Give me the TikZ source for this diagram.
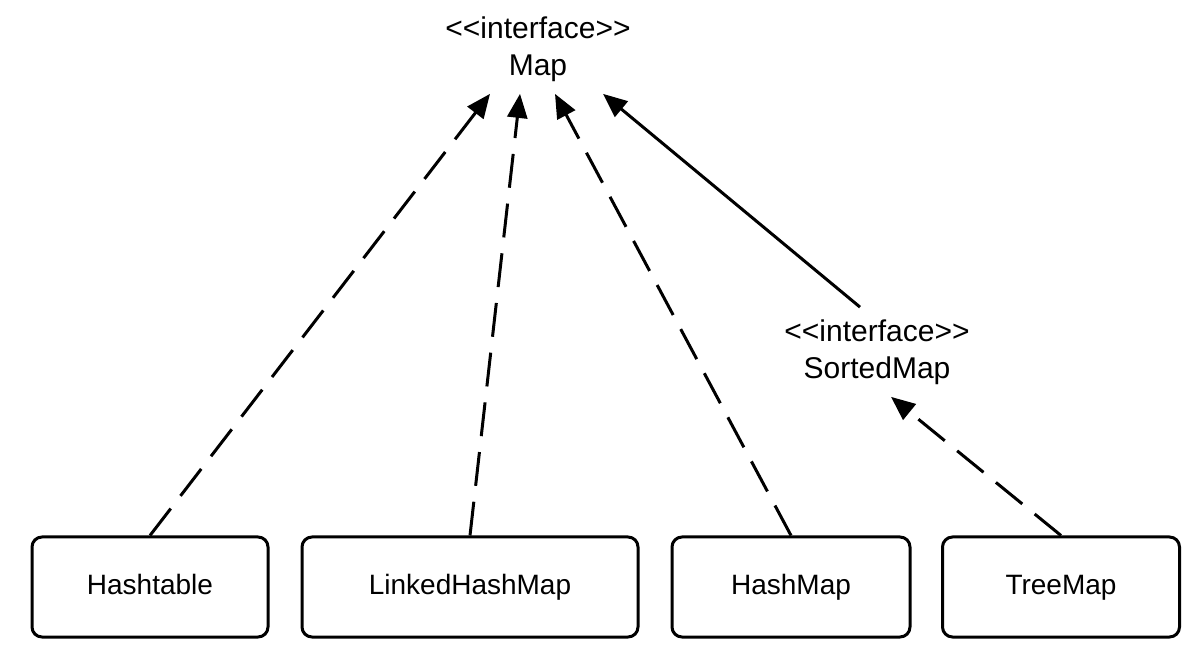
\documentclass[tikz,border=0pt]{standalone}
\usepackage{fontspec}
\setmainfont{Liberation Sans}
\usetikzlibrary{arrows.meta}

\begin{document}
\begin{tikzpicture}[x=0.5pt, y=-0.5pt,
  iface/.style={align=center, inner sep=6pt, font=\fontsize{15}{18.5}\selectfont},
  cls/.style={draw, line width=1.5pt, rounded corners=5pt, minimum height=50pt, text height=10.5pt, text depth=3pt, font=\fontsize{14}{17}\selectfont},
  impl/.style={line width=1.5pt, dash pattern=on 17pt off 8pt, -{Triangle[length=12pt,width=10pt]}},
  ext/.style={line width=1.5pt, -{Triangle[length=12pt,width=10pt]}}]
\useasboundingbox (0,0) rectangle (1203,656);

\node[iface] (map) at (538,49) {<\kern0pt<interface>\kern0pt>\\Map};
\node[iface] (sortedmap) at (877,352) {<\kern0pt<interface>\kern0pt>\\SortedMap};

\node[cls, minimum width=118pt] (hashtable) at (150,587) {Hashtable};
\node[cls, minimum width=168pt] (linkedhashmap) at (470,587) {LinkedHashMap};
\node[cls, minimum width=119pt] (hashmap) at (791,587) {HashMap};
\node[cls, minimum width=118.5pt] (treemap) at (1061,587) {TreeMap};

\draw[impl] (hashtable.north) -- ([xshift=-24pt]map.south);
\draw[impl] (linkedhashmap.north) -- ([xshift=-9pt]map.south);
\draw[impl] (hashmap.north) -- ([xshift=8.5pt]map.south);
\draw[ext] ([xshift=-8.5pt]sortedmap.north) -- ([xshift=32.5pt]map.south);
\draw[impl] (treemap.north) -- ([xshift=7pt]sortedmap.south);
\end{tikzpicture}
\end{document}
